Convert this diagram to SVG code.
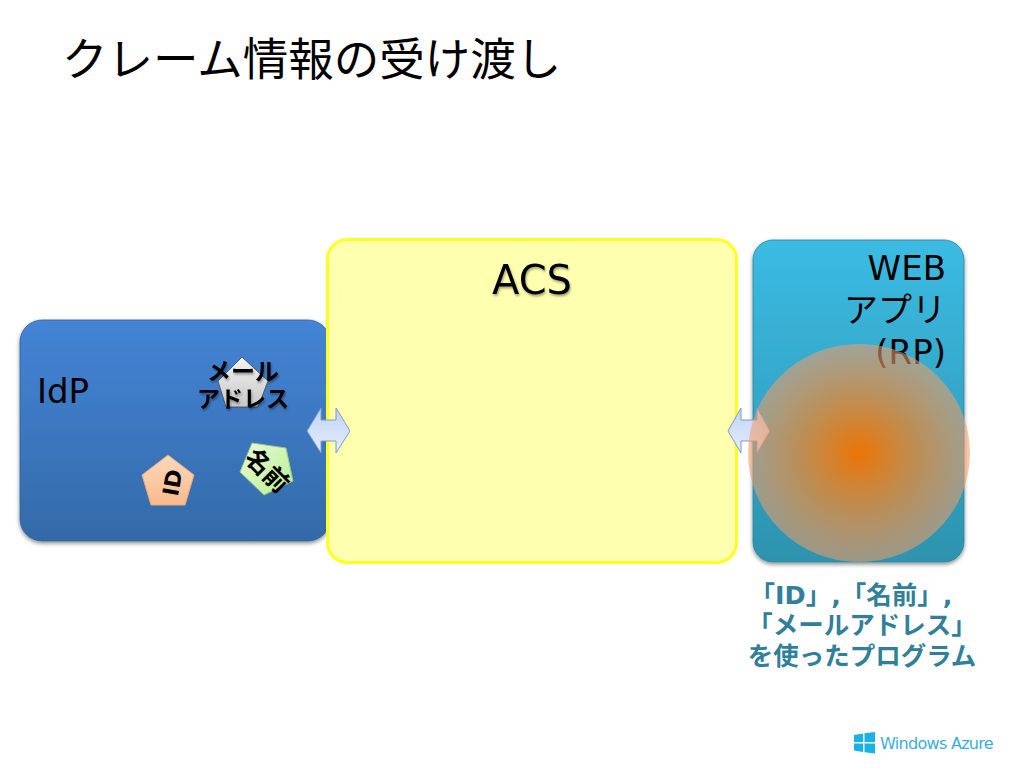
<svg xmlns="http://www.w3.org/2000/svg" width="1024" height="768" viewBox="0 0 1024 768">
<style>
text{font-family:"DejaVu Sans","Noto Sans CJK JP",sans-serif}
.b{font-weight:700;fill:#000}
.c{font-weight:700;fill:#31809b;font-size:25.500px;text-anchor:middle}
.r{font-size:34px;fill:#000;text-anchor:end}
.arrow{fill:url(#arr);stroke:#7f9cc8;stroke-width:1}
</style>
<defs>
<linearGradient id="blue" x1="0" y1="0" x2="0" y2="1"><stop offset="0" stop-color="#4484d6"/><stop offset="1" stop-color="#336aa8"/></linearGradient>
<linearGradient id="teal" x1="0" y1="0" x2="0" y2="1"><stop offset="0" stop-color="#3bbbe3"/><stop offset="1" stop-color="#2d93ae"/></linearGradient>
<linearGradient id="arr" x1="0" y1="0" x2="0" y2="1"><stop offset="0" stop-color="#c0d4f8"/><stop offset="1" stop-color="#e4edfc"/></linearGradient>
<linearGradient id="gray" x1="0" y1="0" x2="0" y2="1"><stop offset="0" stop-color="#f2f2f2"/><stop offset="1" stop-color="#c8c8c8"/></linearGradient>
<linearGradient id="peach" x1="0" y1="0" x2="0" y2="1"><stop offset="0" stop-color="#fbd9bf"/><stop offset="1" stop-color="#fbb98a"/></linearGradient>
<linearGradient id="green" x1="0" y1="0" x2="1" y2="1"><stop offset="0" stop-color="#e8fcd8"/><stop offset="1" stop-color="#b8ee90"/></linearGradient>
<radialGradient id="glow"><stop offset="0" stop-color="#ec7404"/><stop offset=".55" stop-color="#e08a3c" stop-opacity=".78"/><stop offset="1" stop-color="#f49c68" stop-opacity=".55"/></radialGradient>
<filter id="sh" x="-10%" y="-10%" width="120%" height="120%"><feDropShadow dx="0" dy="2" stdDeviation="2" flood-color="#000" flood-opacity=".45"/></filter>
<filter id="ts" x="-10%" y="-10%" width="120%" height="130%"><feDropShadow dx="1" dy="2" stdDeviation="1.200" flood-color="#000" flood-opacity=".35"/></filter>
</defs>
<text id="title" x="62" y="76" font-size="45.500" fill="#000">クレーム情報の受け渡し</text>
<g id="idp">
<rect x="20" y="320" width="310" height="221" rx="22" fill="url(#blue)" stroke="#2f5f98" stroke-width=".8" filter="url(#sh)"/>
<text x="37" y="403" font-size="34" fill="#000">IdP</text>
</g>
<g id="acs">
<rect x="327.500" y="239.500" width="409" height="323" rx="20" fill="#ffffb0" stroke="#ffff20" stroke-width="3"/>
<text x="532" y="294" font-size="40" fill="#000" text-anchor="middle" filter="url(#ts)">ACS</text>
</g>
<g id="webapp">
<rect x="753" y="240" width="211" height="322" rx="20" fill="url(#teal)" stroke="#2a86a0" stroke-width=".8" filter="url(#sh)"/>
<text class="r" x="946" y="280">WEB</text>
<text class="r" x="946" y="322">アプリ</text>
<text class="r" x="946" y="364">(RP)</text>
</g>
<g id="connectors">
<path class="arrow" d="M307 431 L321 408 V420 H336 V408 L350 431 L336 453 V441 H321 V453 Z"/>
<path class="arrow" d="M728 431 L741 408 V420 H757 V408 L770 431 L757 453 V441 H741 V453 Z"/>
</g>
<g id="claim-mail">
<path d="M242 357 L268 381 L258 407 L226 407 L218 381 Z" fill="url(#gray)" stroke="#333" stroke-width=".7"/>
<text class="b" x="243" y="380" font-size="24" text-anchor="middle" filter="url(#ts)">メール</text>
<text class="b" x="243" y="407" font-size="23" text-anchor="middle" filter="url(#ts)">アドレス</text>
</g>
<g id="claim-id">
<path d="M168 455 L194 475 L185 505 L151 505 L142 475 Z" fill="url(#peach)" stroke="#e8a878"/>
<text class="b" x="0" y="0" font-size="22" text-anchor="middle" transform="translate(180 484) rotate(-80)">ID</text>
</g>
<g id="claim-name">
<path d="M252 443 L286 448 L293 481 L264 495 L240 472 Z" fill="url(#green)" stroke="#9cc47c"/>
<text class="b" x="0" y="0" font-size="25" text-anchor="middle" transform="translate(261 477) rotate(45)">名前</text>
</g>
<g id="glow-circle">
<ellipse cx="859" cy="453" rx="111" ry="109" fill="url(#glow)"/>
</g>
<g id="caption">
<text class="c" x="851" y="604">「ID」,「名前」,</text>
<text class="c" x="862" y="634">「メールアドレス」</text>
<text class="c" x="862" y="665">を使ったプログラム</text>
</g>
<g id="logo">
<path d="M854 735 L863 733.500 V742 H854 Z M864.500 733.300 L875 732 V742 H864.500 Z M854 743.500 H863 V752 L854 750.500 Z M864.500 743.500 H875 V753.500 L864.500 752.200 Z" fill="#19b2e8"/>
<text x="880" y="749" font-size="16" letter-spacing="-.7" fill="#3aaedc">Windows Azure</text>
</g>
</svg>
